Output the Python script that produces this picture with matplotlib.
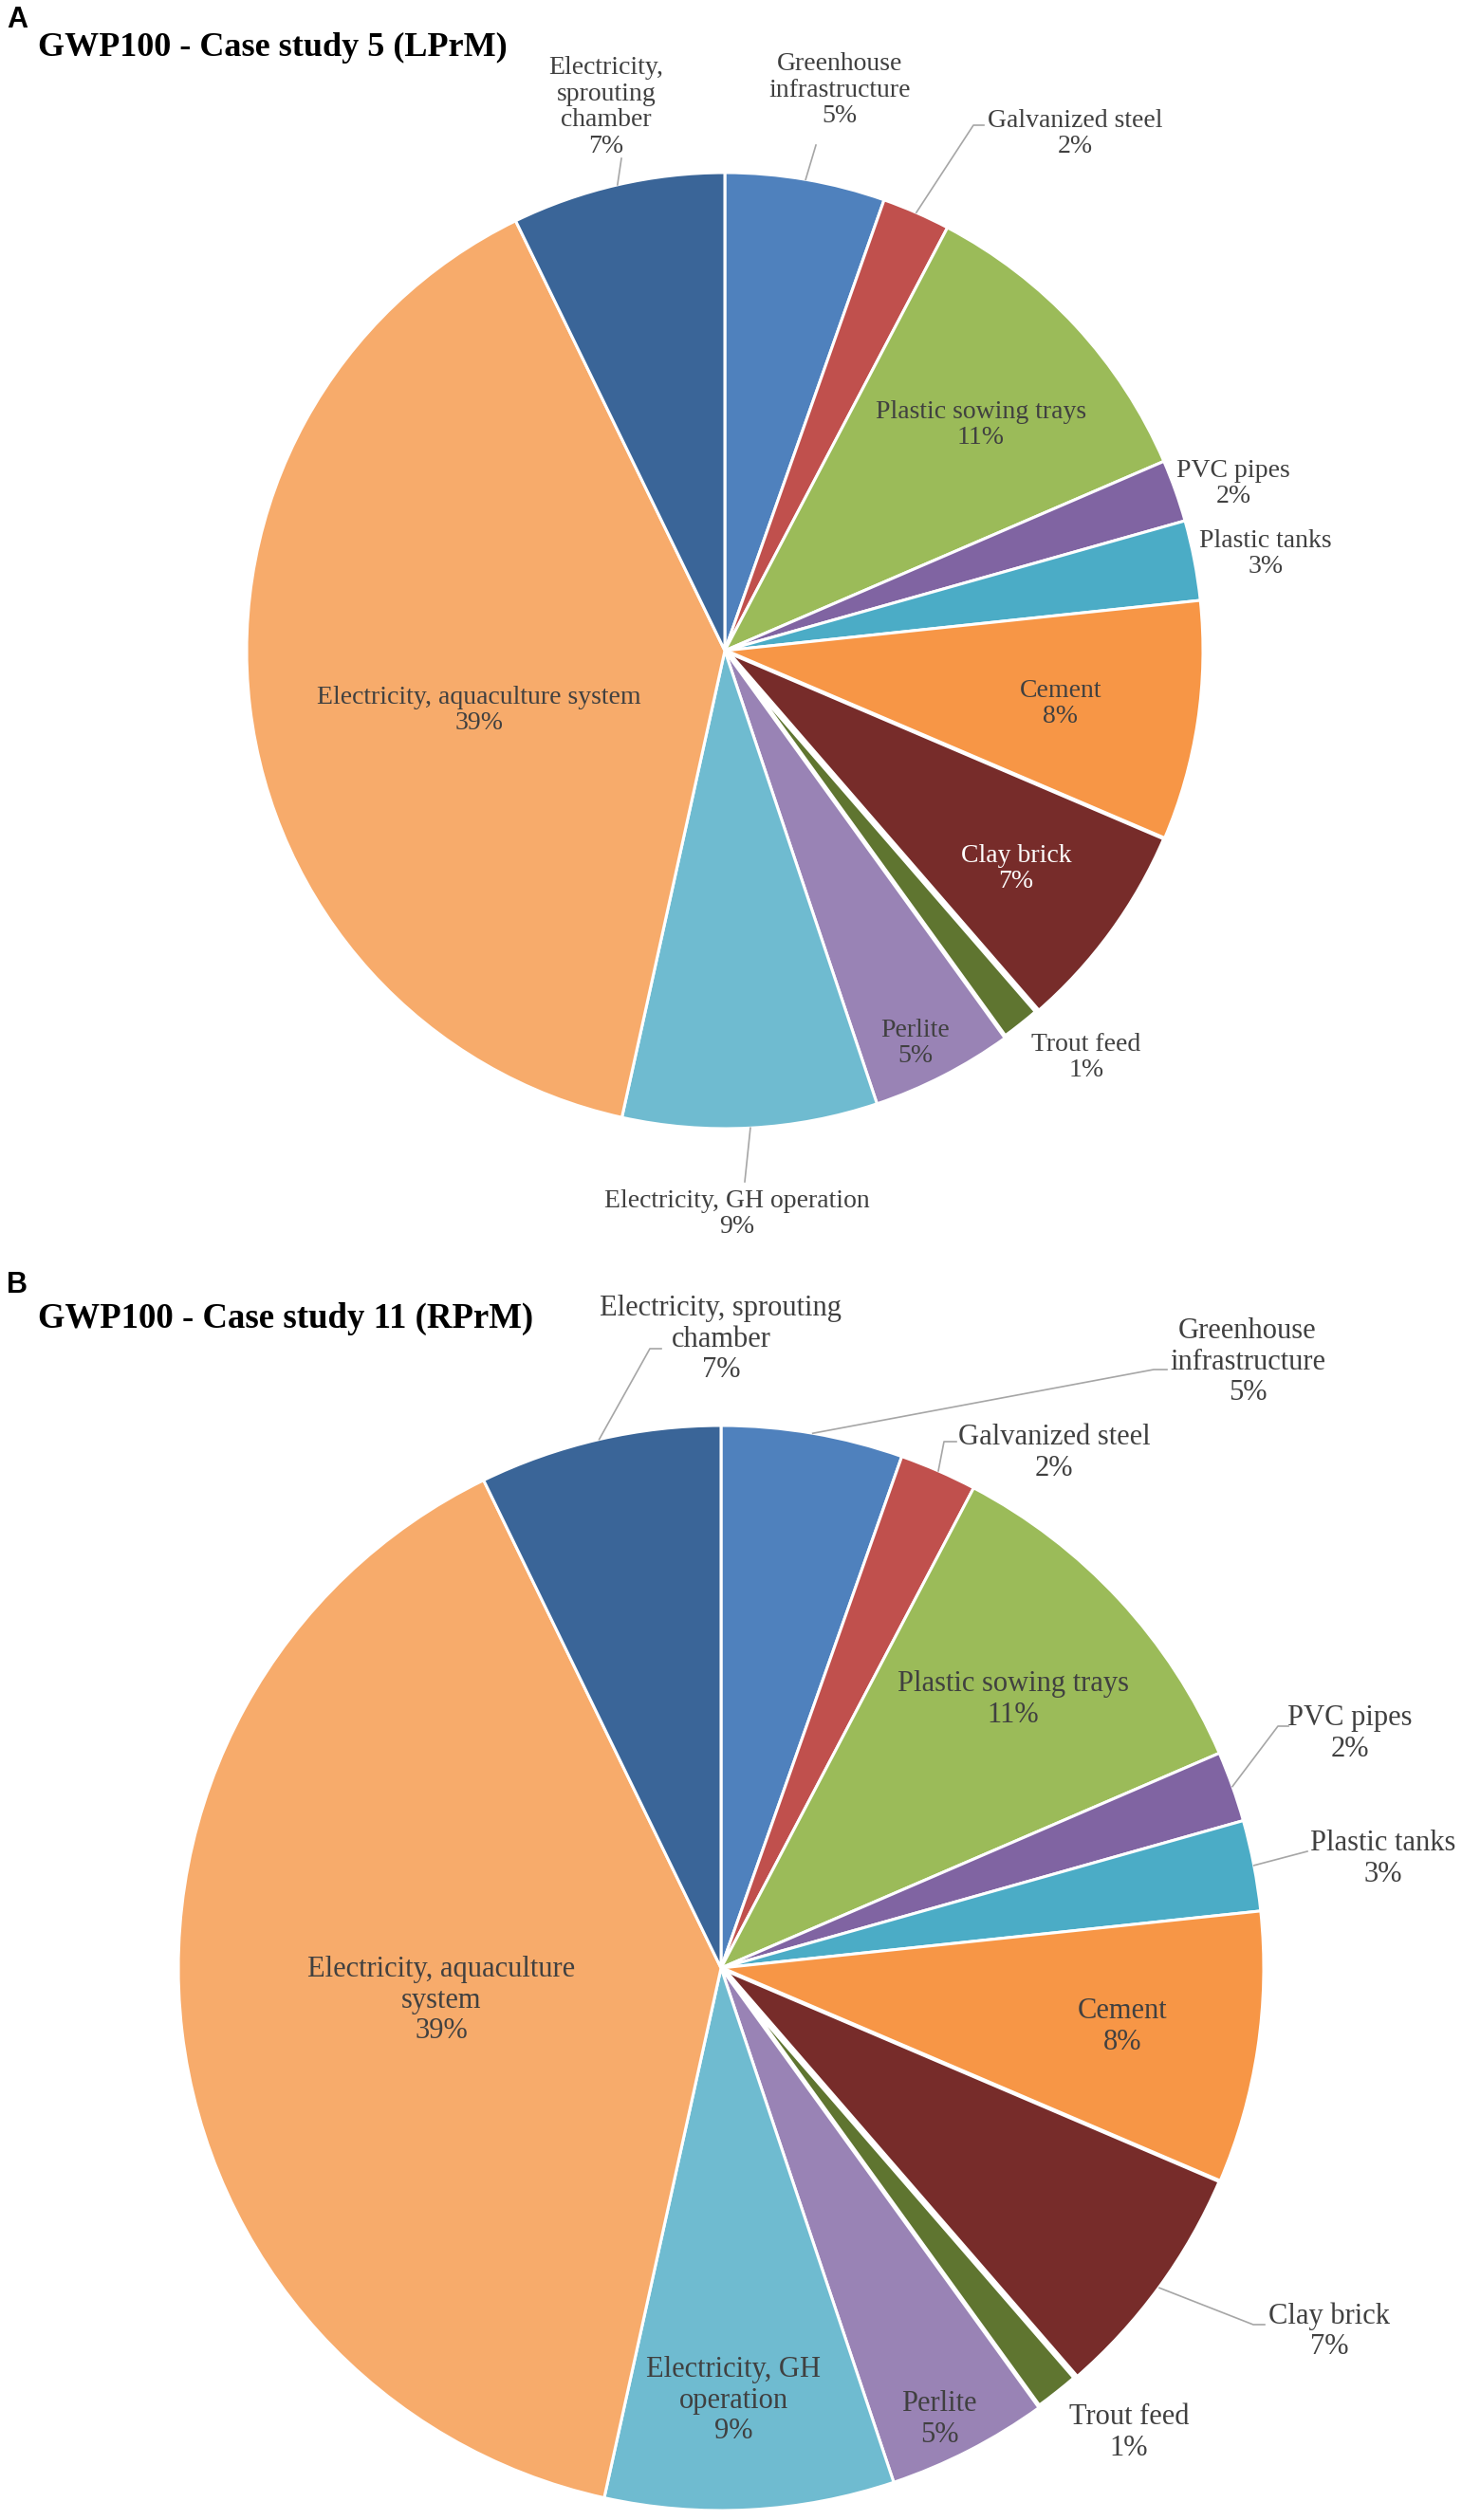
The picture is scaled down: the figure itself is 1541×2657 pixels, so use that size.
import matplotlib.pyplot as plt
import numpy as np

# tamanho final em pixels (dpi 100)
W, H = 1541, 2657

categorias = ["Greenhouse infrastructure", "Galvanized steel", "Plastic sowing trays",
              "PVC pipes", "Plastic tanks", "Cement", "Clay brick", "Trout feed",
              "Perlite", "Electricity, GH operation", "Electricity, aquaculture system",
              "Electricity, sprouting chamber"]
gwp_caso5 = [5.4, 2.3, 10.8, 2.1, 2.7, 8.1, 7.2, 1.4, 4.8, 8.6, 39.3, 7.2]
gwp_caso11 = [5.4, 2.3, 10.8, 2.1, 2.7, 8.1, 7.2, 1.4, 4.8, 8.6, 39.3, 7.2]
cores = ["#4F81BD", "#C0504D", "#9BBB59", "#8064A2", "#4BACC6", "#F79646",
         "#772C2A", "#5F7530", "#9983B5", "#6FBBD0", "#F7AB6B", "#3A6598"]

# quebras de linha dos rotulos em cada painel
rotulos_a = ["Greenhouse\ninfrastructure", "Galvanized steel", "Plastic sowing trays",
             "PVC pipes", "Plastic tanks", "Cement", "Clay brick", "Trout feed",
             "Perlite", "Electricity, GH operation", "Electricity, aquaculture system",
             "Electricity,\nsprouting\nchamber"]
rotulos_b = ["Greenhouse\ninfrastructure", "Galvanized steel", "Plastic sowing trays",
             "PVC pipes", "Plastic tanks", "Cement", "Clay brick", "Trout feed",
             "Perlite", "Electricity, GH\noperation", "Electricity, aquaculture\nsystem",
             "Electricity, sprouting\nchamber"]

COR_TEXTO = "#404040"
COR_GUIA = "#A6A6A6"

paineis = [
    dict(valores=gwp_caso5, rotulos=rotulos_a, letra="A", letra_base=29,
         titulo="GWP100 - Case study 5 (LPrM)", titulo_base=59, titulo_fs=26,
         centro=(764, 686), raio=504, fs=20,
         pos=[(885, 95), (1133, 141), (1034, 448), (1300, 510), (1334, 584),
              (1118, 742), (1071, 916), (1145, 1115), (965, 1100), (777, 1280),
              (505, 749), (639, 113)],
         guias={11: [(655, 167)], 0: [(860, 153)], 1: [(1026, 132), (1037, 132)],
                9: [(785, 1246)]},
         brancos=[6]),
    dict(valores=gwp_caso11, rotulos=rotulos_b, letra="B", letra_base=1363,
         titulo="GWP100 - Case study 11 (RPrM)", titulo_base=1400, titulo_fs=26.5,
         centro=(760, 2075), raio=572, fs=22,
         pos=[(1315, 1436), (1111, 1532), (1068, 1792), (1423, 1828), (1458, 1960),
              (1183, 2137), (1401, 2458), (1190, 2565), (990, 2551), (773, 2531),
              (465, 2109), (760, 1412)],
         guias={11: [(685, 1422), (697, 1422)], 0: [(1216, 1444), (1230, 1444)],
                1: [(995, 1520), (1008, 1520)], 3: [(1347, 1820), (1358, 1820)],
                4: [(1378, 1952)], 6: [(1321, 2451), (1333, 2451)]},
         brancos=[]),
]


def px(x, y):
    return x, H - y


fig = plt.figure(figsize=(W / 100, H / 100), dpi=100)
ax = fig.add_axes([0, 0, 1, 1])

for p in paineis:
    cx, cy = px(*p["centro"])
    r = p["raio"]
    fatias, _ = ax.pie(p["valores"], colors=cores, startangle=90, counterclock=False,
                       center=(cx, cy), radius=r,
                       wedgeprops=dict(edgecolor="white", linewidth=2.2))
    fatias[6].set_linewidth(3.2)
    fatias[7].set_linewidth(5)

    total = sum(p["valores"])
    for i, fatia in enumerate(fatias):
        texto = f"{p['rotulos'][i]}\n{p['valores'][i] / total * 100:.0f}%"
        x, y = px(*p["pos"][i])
        cor = "white" if i in p["brancos"] else COR_TEXTO
        ax.text(x, y, texto, ha="center", va="center", fontsize=p["fs"],
                family="Liberation Serif", color=cor, linespacing=1.15, zorder=5)

        if i in p["guias"]:
            meio = np.deg2rad((fatia.theta1 + fatia.theta2) / 2)
            xs = [cx + r * np.cos(meio)]
            ys = [cy + r * np.sin(meio)]
            for ponto in p["guias"][i]:
                gx, gy = px(*ponto)
                xs.append(gx)
                ys.append(gy)
            ax.plot(xs, ys, color=COR_GUIA, linewidth=1.2, zorder=4)

    ax.text(*px(7, p["letra_base"]), p["letra"], ha="left", va="baseline",
            fontsize=22, fontweight="bold", family="Liberation Sans", color="black")
    ax.text(*px(40, p["titulo_base"]), p["titulo"], ha="left", va="baseline",
            fontsize=p["titulo_fs"], fontweight="bold", family="Liberation Serif",
            color="black")

ax.set_xlim(0, W)
ax.set_ylim(0, H)
ax.set_aspect("auto")
ax.axis("off")
fig.savefig("out.png", dpi=100, facecolor="white")
plt.close(fig)
